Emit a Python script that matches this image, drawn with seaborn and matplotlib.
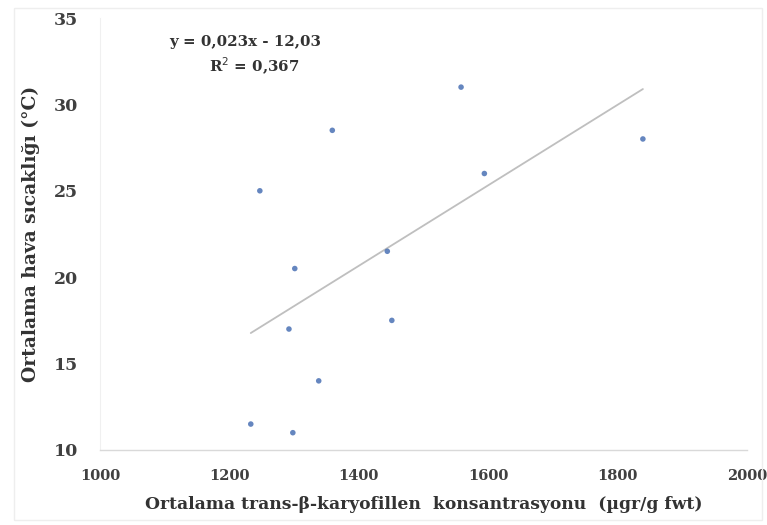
import matplotlib
matplotlib.use("Agg")
import matplotlib.pyplot as plt
import seaborn as sns
import pandas as pd
import numpy as np
from matplotlib.patches import Rectangle

# Mean trans-beta-caryophyllene concentration vs. mean air temperature
konsantrasyon = [1233, 1298, 1247, 1292, 1301, 1338, 1359, 1444, 1451, 1558, 1594, 1839]
sicaklik = [11.5, 11.0, 25.0, 17.0, 20.5, 14.0, 28.5, 21.5, 17.5, 31.0, 26.0, 28.0]

x_ticks = [1000, 1200, 1400, 1600, 1800, 2000]
y_ticks = [10, 15, 20, 25, 30, 35]

df = pd.DataFrame({"x": konsantrasyon, "y": sicaklik})

sns.set_theme(style="white")
plt.rcParams["font.family"] = ["DejaVu Serif"]

fig = plt.figure(figsize=(7.67, 5.25), dpi=100)
ax = fig.add_axes([0.1304, 0.1429, 0.8436, 0.8228])

sns.regplot(data=df, x="x", y="y", ax=ax, ci=None, truncate=True,
            scatter_kws=dict(s=16, color="#3F68B0", edgecolor="none", zorder=3),
            line_kws=dict(color="#BFBFBF", lw=1.3, zorder=2))

ax.set_xlim(1000, 2000)
ax.set_ylim(10, 35)
ax.set_xticks(x_ticks)
ax.set_yticks(y_ticks)
ax.set_xticklabels([str(t) for t in x_ticks], fontsize=10.5, fontweight="bold", color="#404040")
ax.set_yticklabels([str(t) for t in y_ticks], fontsize=12.5, fontweight="bold", color="#404040")
ax.tick_params(axis="both", length=0)
ax.tick_params(axis="x", pad=14)
ax.tick_params(axis="y", pad=16)

ax.set_xlabel("Ortalama trans-β-karyofillen  konsantrasyonu  (µgr/g fwt)",
              fontsize=12.3, fontweight="bold", color="#333333", labelpad=9)
ax.set_ylabel("Ortalama hava sıcaklığı (°C)", fontsize=13.5, fontweight="bold",
              color="#333333", labelpad=10)

for side in ("top", "right"):
    ax.spines[side].set_visible(False)
ax.spines["bottom"].set_color("#D9D9D9")
ax.spines["bottom"].set_linewidth(1.0)
ax.spines["left"].set_color("#F0F0F0")
ax.spines["left"].set_linewidth(0.8)

# Regression equation and coefficient of determination
slope, intercept = np.polyfit(konsantrasyon, sicaklik, 1)
r2 = np.corrcoef(konsantrasyon, sicaklik)[0, 1] ** 2
ax.text(0.225, 0.945, "y = 0,023x - 12,03", transform=ax.transAxes,
        ha="center", va="center", fontsize=10.8, fontweight="bold", color="#333333")
ax.text(0.238, 0.887, "R$^2$ = 0,367", transform=ax.transAxes,
        ha="center", va="center", fontsize=10.8, fontweight="bold", color="#333333")

# Chart area border
fig.patches.append(Rectangle((0.018, 0.01), 0.975, 0.975, transform=fig.transFigure,
                             fill=False, edgecolor="#EEEEEE", lw=1.0))

fig.savefig("out.png", dpi=100, facecolor="white")
